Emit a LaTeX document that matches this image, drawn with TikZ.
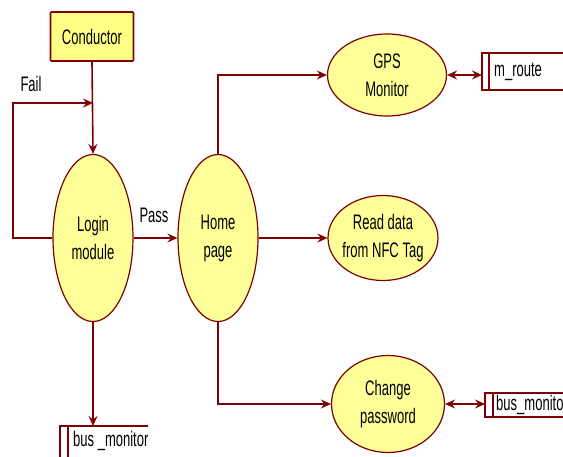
\documentclass[tikz,border=0pt]{standalone}
\usepackage{fontspec}
\setmainfont[FakeStretch=0.62]{Liberation Sans}
\usetikzlibrary{shapes.geometric,arrows.meta}
\definecolor{dr}{HTML}{7F0000}
\definecolor{yl}{HTML}{FFFF99}
\definecolor{yb}{HTML}{FFFF85}
\begin{document}
\begin{tikzpicture}[x=1pt,y=-1pt,
  txt/.style={font=\fontsize{21}{28}\selectfont, align=center, inner sep=0pt},
  proc/.style={ellipse, draw=dr, line width=1.2pt, fill=yl, inner sep=0pt},
  ext/.style={rectangle, draw=dr, line width=1.6pt, fill=yb, rounded corners=1pt, minimum width=83pt, minimum height=49pt, txt},
  flow/.style={draw=dr, line width=1.6pt, -{Stealth[length=10pt,width=9pt,inset=3.5pt]}},
  dflow/.style={draw=dr, line width=1.6pt, {Stealth[length=10pt,width=9pt,inset=3.5pt]}-{Stealth[length=10pt,width=9pt,inset=3.5pt]}},
  store/.style={draw=dr, line width=1.6pt}]
\clip (0,0) rectangle (563,456);
\fill[white] (0,0) rectangle (563,456);

\node[ext] (cond) at (92,36.5) {Conductor};
\node[proc, minimum width=80pt, minimum height=167pt,
  label={[txt]center:Login\\module}] (login) at (93,238) {};
\node[proc, minimum width=80pt, minimum height=167pt,
  label={[txt]center:Home\\page}] (home) at (218,238) {};
\node[proc, minimum width=119pt, minimum height=82pt,
  label={[txt]center:GPS\\Monitor}] (gps) at (387,75) {};
\node[proc, minimum width=110pt, minimum height=85pt,
  label={[txt]center:Read data\\from NFC Tag}] (nfc) at (383,238) {};
\node[proc, minimum width=113pt, minimum height=97pt,
  label={[txt]center:Change\\password}] (chg) at (388,404) {};

% data stores
\draw[store] (563,53) -- (482,53) -- (482,90) -- (563,90);
\draw[store] (489,53) -- (489,90);
\node[txt, anchor=west] (mroute) at (494,72) {m\_route};
\coordinate (mr) at (482,75);

\draw[store] (563,393) -- (485,393) -- (485,417) -- (563,417);
\draw[store] (493,393) -- (493,417);
\node[txt, anchor=west] (bmr) at (496,405) {bus\_monito};
\coordinate (bm2) at (485,404);

\draw[store] (148,426) -- (60,426) -- (60,460);
\draw[store] (68,426) -- (68,460);
\node[txt, anchor=west] (bml) at (73,441) {bus \_monitor};
\coordinate (bm) at (93,426);

% flows
\coordinate (loopc) at (13,103);
\coordinate (failend) at (93,103);
\draw[flow] (cond.south) -- (login.north);
\draw[flow] (login.west) -| (loopc) -- (failend);
\node[txt] (fail) at (31,84) {Fail};
\draw[flow] (login.east) -- (home.west);
\node[txt] (pass) at (154,215) {Pass};
\draw[flow] (home.north) |- (gps.west);
\draw[flow] (home.east) -- (nfc.west);
\draw[flow] (home.south) |- (chg.west);
\draw[flow] (login.south) -- (bm);
\draw[dflow] (gps.east) -- (mr);
\draw[dflow] (chg.east) -- (bm2);
\end{tikzpicture}
\end{document}
